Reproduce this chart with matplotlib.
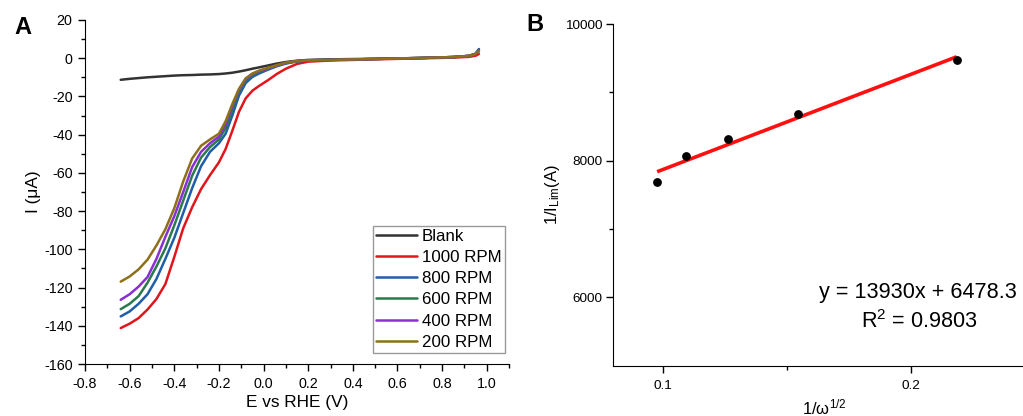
import matplotlib

matplotlib.use("Agg")
import matplotlib.pyplot as plt
from matplotlib.ticker import MultipleLocator

plt.rcParams["font.family"] = ["Liberation Sans", "DejaVu Sans"]
plt.rcParams["mathtext.fontset"] = "custom"
plt.rcParams["mathtext.rm"] = "Liberation Sans"
plt.rcParams["mathtext.it"] = "Liberation Sans:italic"

# ---- panel A: LSV curves (E vs RHE in V, current in uA) ----
potential = [-0.64, -0.60, -0.56, -0.52, -0.48, -0.44, -0.40, -0.36, -0.32, -0.28,
             -0.24, -0.20, -0.17, -0.14, -0.11, -0.08, -0.05, -0.02, 0.02, 0.06,
             0.10, 0.15, 0.20, 0.30, 0.50, 0.70, 0.85, 0.92, 0.95, 0.965]

blank = [-11.3, -10.8, -10.4, -10.0, -9.7, -9.4, -9.1, -8.9, -8.8, -8.6,
         -8.5, -8.3, -8.0, -7.6, -7.0, -6.3, -5.5, -4.8, -3.8, -2.8,
         -2.0, -1.3, -0.9, -0.6, -0.3, 0.1, 0.6, 1.2, 2.2, 4.4]
rpm_1000 = [-141.2, -138.9, -136.0, -131.5, -126.0, -118.2, -104.0, -89.0, -78.0, -68.5,
            -61.2, -54.5, -47.5, -38.0, -28.0, -21.0, -17.0, -14.5, -11.5, -8.2,
            -5.5, -3.0, -1.8, -1.2, -0.6, -0.1, 0.3, 0.7, 1.3, 2.2]
rpm_800 = [-135.1, -132.5, -128.5, -123.5, -115.5, -105.0, -94.0, -81.0, -68.0, -56.5,
           -49.0, -44.5, -39.5, -30.0, -19.5, -13.0, -9.8, -8.0, -6.0, -4.2,
           -2.8, -1.7, -1.2, -0.9, -0.4, 0.1, 0.6, 1.2, 2.4, 4.8]
rpm_600 = [-131.3, -128.5, -124.5, -117.5, -109.0, -99.5, -87.5, -74.5, -61.5, -52.0,
           -46.5, -42.5, -36.5, -27.0, -17.5, -11.8, -8.8, -7.2, -5.6, -3.9,
           -2.6, -1.6, -1.1, -0.9, -0.4, 0.1, 0.6, 1.2, 2.2, 3.9]
rpm_400 = [-126.4, -123.5, -119.5, -114.5, -105.0, -93.5, -82.7, -70.0, -57.0, -49.0,
           -44.5, -41.0, -34.5, -25.0, -16.5, -11.0, -8.3, -6.8, -5.4, -3.8,
           -2.5, -1.5, -1.1, -0.9, -0.4, 0.1, 0.6, 1.2, 2.2, 3.6]
rpm_200 = [-116.9, -114.2, -110.5, -105.4, -98.0, -89.5, -78.5, -64.5, -52.5, -45.8,
           -42.5, -39.5, -33.0, -24.0, -16.0, -10.5, -8.0, -6.5, -5.0, -3.6,
           -2.3, -1.5, -1.1, -0.9, -0.4, 0.1, 0.6, 1.2, 2.2, 3.8]

series_labels = ["Blank", "1000 RPM", "800 RPM", "600 RPM", "400 RPM", "200 RPM"]
series_values = [blank, rpm_1000, rpm_800, rpm_600, rpm_400, rpm_200]
series_colors = ["#333333", "#e0161c", "#1f5ea8", "#2b7a4b", "#8a2fd4", "#8c7118"]

# ---- panel B: Koutecky-Levich plot ----
inv_sqrt_omega = [0.0977, 0.1093, 0.1262, 0.1545, 0.2185]
inv_ilim = [7695, 8063, 8317, 8679, 9471]
fit_slope = 13930
fit_intercept = 6478.3
fit_r2 = 0.9803

fig = plt.figure(figsize=(10.23, 4.16), dpi=100)

# panel A
ax = fig.add_axes([0.0831, 0.125, 0.4145, 0.827])
for vals, lab, col in zip(series_values, series_labels, series_colors):
    ax.plot(potential, vals, color=col, lw=1.8, label=lab,
            solid_capstyle="round", solid_joinstyle="round")
ax.set_xlim(-0.8, 1.1)
ax.set_ylim(-160, 20)
ax.xaxis.set_minor_locator(MultipleLocator(0.1))
ax.yaxis.set_major_locator(MultipleLocator(20))
ax.yaxis.set_minor_locator(MultipleLocator(10))
ax.set_xticks([-0.8, -0.6, -0.4, -0.2, 0.0, 0.2, 0.4, 0.6, 0.8, 1.0])
ax.set_xticklabels(["-0.8", "-0.6", "-0.4", "-0.2", "0.0", "0.2", "0.4", "0.6", "0.8", "1.0"])
ax.set_yticklabels([str(int(v)) for v in ax.get_yticks()])
ax.spines[["top", "right"]].set_visible(False)
ax.tick_params(which="major", direction="out", length=5, width=1, labelsize=10.3, pad=4)
ax.tick_params(which="minor", direction="out", length=3, width=1)
ax.set_xlabel("E vs RHE (V)", fontsize=12.4, labelpad=3)
ax.set_ylabel("I (μA)", fontsize=12.4, labelpad=2)
leg = ax.legend(loc="lower right", bbox_to_anchor=(0.99, 0.032), borderaxespad=0,
                fontsize=12.2, handlelength=2.4, handletextpad=0.3, labelspacing=0.36,
                borderpad=0.2, fancybox=False, framealpha=1)
leg.get_frame().set_edgecolor("#9a9a9a")
leg.get_frame().set_linewidth(1.0)
fig.text(0.0225, 0.935, "A", fontsize=17, fontweight="bold", ha="center", va="center")

# panel B
bx = fig.add_axes([0.5995, 0.121, 0.412, 0.821])
fit_x = [inv_sqrt_omega[0], inv_sqrt_omega[-1]]
fit_y = [fit_slope * v + fit_intercept for v in fit_x]
bx.plot(fit_x, fit_y, color="#ff1010", lw=2.6, solid_capstyle="butt")
bx.scatter(inv_sqrt_omega, inv_ilim, s=28, color="black", zorder=3)
bx.set_xlim(0.08, 0.25)
bx.set_ylim(5000, 10000)
bx.set_xticks([0.1, 0.2])
bx.set_xticklabels(["0.1", "0.2"])
bx.set_xticks([0.15], minor=True)
bx.set_yticks([6000, 8000, 10000])
bx.set_yticks([7000, 9000], minor=True)
bx.spines[["top", "right"]].set_visible(False)
bx.tick_params(which="major", direction="out", length=5, width=1, labelsize=9.7, pad=5)
bx.tick_params(axis="y", which="major", pad=3)
bx.tick_params(which="minor", direction="out", length=3, width=1)
bx.set_xlabel("1/ω$^{\\mathrm{1/2}}$", fontsize=12, labelpad=4)
bx.set_ylabel("1/I$_{\\mathrm{Lim}}$(A)", fontsize=12, labelpad=2)
bx.text(0.722, 0.213, f"y = {fit_slope}x + {fit_intercept}", transform=bx.transAxes,
        fontsize=15.6, ha="center", va="center")
bx.text(0.727, 0.129, f"R$^{{\\mathrm{{2}}}}$ = {fit_r2}", transform=bx.transAxes,
        fontsize=15.6, ha="center", va="center")
fig.text(0.523, 0.94, "B", fontsize=17, fontweight="bold", ha="center", va="center")

fig.savefig("out.png", dpi=100)
